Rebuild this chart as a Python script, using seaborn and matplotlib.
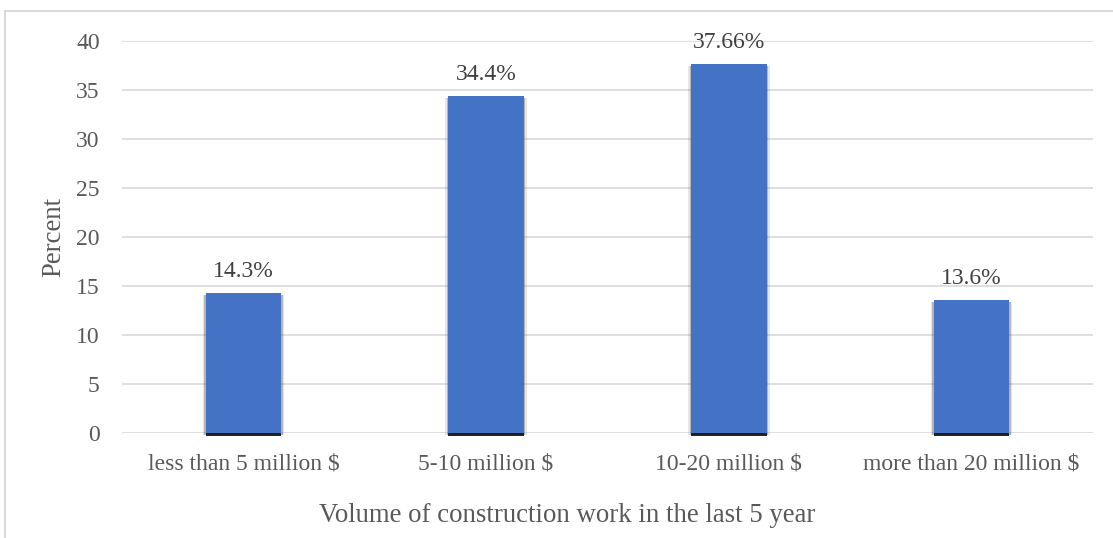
import matplotlib
matplotlib.use("Agg")
import matplotlib.pyplot as plt
import matplotlib.patheffects as pe
from matplotlib.lines import Line2D
import seaborn as sns
import pandas as pd

categories = ["less than 5 million $", "5-10 million $", "10-20 million $", "more than 20 million $"]
values = [14.3, 34.4, 37.66, 13.6]
value_labels = ["14.3%", "34.4%", "37.66%", "13.6%"]
yticks = [0, 5, 10, 15, 20, 25, 30, 35, 40]

sns.set_theme(style="white")
plt.rcParams["font.family"] = ["Liberation Serif", "DejaVu Serif"]

df = pd.DataFrame({"cat": categories, "val": values})

fig = plt.figure(figsize=(11.13, 5.38), dpi=100)
ax = fig.add_axes([122 / 1113, 1 - 433 / 538, (1093 - 122) / 1113, (433 - 41) / 538])

sns.barplot(data=df, x="cat", y="val", color="#4472C4", width=0.31, ax=ax,
            saturation=1, zorder=3)

for p in ax.patches:
    p.set_edgecolor("none")
    p.set_clip_on(False)
    p.set_path_effects([
        pe.SimplePatchShadow(offset=(-2.2, -1.5), shadow_rgbFace="#777777", alpha=0.18),
        pe.SimplePatchShadow(offset=(2.2, -1.5), shadow_rgbFace="#777777", alpha=0.18),
        pe.SimplePatchShadow(offset=(-1.2, -1.5), shadow_rgbFace="#444444", alpha=0.3),
        pe.SimplePatchShadow(offset=(1.2, -1.5), shadow_rgbFace="#444444", alpha=0.3),
        pe.SimplePatchShadow(offset=(0, -2.0), shadow_rgbFace="#111111", alpha=0.9),
        pe.Normal(),
    ])

for i, (v, lab) in enumerate(zip(values, value_labels)):
    ax.annotate(lab, xy=(i, v), xytext=(0, 15.5), textcoords="offset points",
                ha="center", va="center", fontsize=17, color="#404040")

ax.set_ylim(0, 40)
ax.set_yticks(yticks)
ax.set_yticklabels([str(t) for t in yticks])
ax.yaxis.grid(True, color="#D9D9D9", linewidth=1.2, zorder=0)
ax.set_axisbelow(True)
for s in ax.spines.values():
    s.set_visible(False)
ax.tick_params(axis="both", length=0, labelsize=17, colors="#595959")
ax.tick_params(axis="y", pad=16)
ax.tick_params(axis="x", pad=15)
ax.set_xlabel("Volume of construction work in the last 5 year", fontsize=19.3,
              color="#595959", va="center")
ax.xaxis.set_label_coords((567 - 122) / 971, -(516 - 433) / 392)
ax.set_ylabel("Percent", fontsize=19.3, color="#595959", va="center")
ax.yaxis.set_label_coords(-(122 - 54) / 971, 0.5)

fig.add_artist(Line2D([4.5 / 1113, 4.5 / 1113], [0, 1 - 11 / 538], color="#D9D9D9", lw=1.5))
fig.add_artist(Line2D([4.5 / 1113, 1], [1 - 11 / 538, 1 - 11 / 538], color="#D9D9D9", lw=1.5))

fig.savefig("out.png", dpi=100, facecolor="white")
